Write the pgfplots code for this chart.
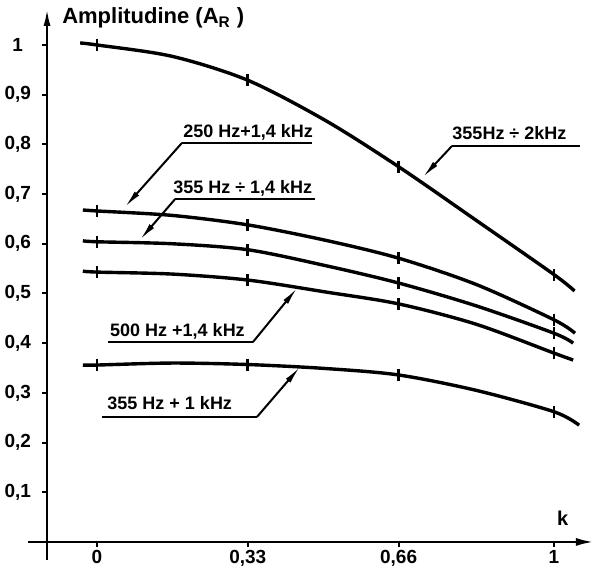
\documentclass[border=0pt]{standalone}
\usepackage{pgfplots}
\pgfplotsset{compat=1.18}
\usepackage{fontspec}
\setmainfont{Liberation Sans}
\usetikzlibrary{arrows.meta}
\begin{document}
\begin{tikzpicture}[font=\bfseries]
\begin{axis}[
  scale only axis,
  width=273.5pt, height=267pt,
  xmin=-0.1094, xmax=1.0875,
  ymin=0, ymax=1.0744,
  axis lines=left,
  clip=false,
  x axis line style={line width=1.3pt, -{Latex[length=9pt,width=4pt]}, shorten <=-9.5pt},
  y axis line style={line width=1.3pt, -{Latex[length=9pt,width=3.5pt]}, shorten <=-9pt},
  tick align=outside,
  major tick length=2.5pt,
  every tick/.style={black, line width=1pt},
  xtick={0,0.33,0.66,1},
  xticklabels={0,{0,33},{0,66},1},
  ytick={0.1,0.2,0.3,0.4,0.5,0.6,0.7,0.8,0.9,1},
  yticklabels={{0,1},{0,2},{0,3},{0,4},{0,5},{0,6},{0,7},{0,8},{0,9},1},
  ticklabel style={font=\fontsize{9.5}{11}\selectfont\bfseries},
  xticklabel style={yshift=2pt},
  yticklabel style={anchor=east, text width=13pt, align=center, inner xsep=0pt, xshift=-5.5pt},
  every axis y label/.style={at={(rel axis cs:0.015,0.981)}, anchor=west, font=\fontsize{11}{13}\selectfont\bfseries},
  every axis x label/.style={at={(rel axis cs:0.943,0.045)}, anchor=center, font=\fontsize{10}{12}\selectfont\bfseries},
  ylabel={Amplitudine (A\textsubscript{R} )},
  xlabel={k},
  curve/.style={line width=1.7pt, black, smooth, mark=|, mark size=3pt, mark options={line width=1.4pt, solid}, mark indices={2,4,6,8}},
]
% frame of the picture (nothing drawn)
\path (axis cs:-0.2123,-0.0584) rectangle (axis cs:1.0963,1.0905);
% 355 Hz ÷ 2 kHz
\addplot[curve] coordinates {(-0.037,1.004) (0,1.0) (0.165,0.977) (0.33,0.929) (0.5,0.848) (0.66,0.755) (0.83,0.647) (1,0.538) (1.045,0.505)};
% 250 Hz + 1,4 kHz
\addplot[curve] coordinates {(-0.031,0.668) (0,0.666) (0.165,0.657) (0.33,0.638) (0.5,0.607) (0.66,0.571) (0.83,0.518) (1,0.447) (1.046,0.42)};
% 355 Hz ÷ 1,4 kHz
\addplot[curve] coordinates {(-0.031,0.606) (0,0.604) (0.165,0.600) (0.33,0.588) (0.5,0.556) (0.66,0.521) (0.83,0.475) (1,0.42) (1.042,0.40)};
% 500 Hz + 1,4 kHz
\addplot[curve] coordinates {(-0.031,0.545) (0,0.543) (0.165,0.539) (0.33,0.527) (0.5,0.503) (0.66,0.479) (0.83,0.438) (1,0.380) (1.042,0.366)};
% 355 Hz + 1 kHz
\addplot[curve] coordinates {(-0.031,0.356) (0,0.356) (0.165,0.360) (0.33,0.357) (0.5,0.349) (0.66,0.336) (0.83,0.305) (1,0.262) (1.055,0.235)};

% labels with leader lines
\def\lfont{\fontsize{9}{10}\selectfont\bfseries}
\node[anchor=base west, inner sep=0pt, font=\lfont] at (axis cs:0.188,0.813) {250 Hz+1,4 kHz};
\draw[line width=1.2pt] (axis cs:0.470,0.803) -- (axis cs:0.186,0.803);
\draw[line width=1pt, -{Latex[length=9pt,width=3pt]}] (axis cs:0.186,0.803) -- (axis cs:0.061,0.674);

\node[anchor=base west, inner sep=0pt, font=\lfont] at (axis cs:0.166,0.702) {355 Hz ÷ 1,4 kHz};
\draw[line width=1.2pt] (axis cs:0.477,0.690) -- (axis cs:0.171,0.690);
\draw[line width=1pt, -{Latex[length=9pt,width=3pt]}] (axis cs:0.171,0.690) -- (axis cs:0.094,0.608);

\node[anchor=base west, inner sep=0pt, font=\lfont] at (axis cs:0.777,0.809) {355Hz ÷ 2kHz};
\draw[line width=1.2pt] (axis cs:1.057,0.797) -- (axis cs:0.777,0.797);
\draw[line width=1pt, -{Latex[length=9pt,width=3pt]}] (axis cs:0.777,0.797) -- (axis cs:0.713,0.734);

\node[anchor=base west, inner sep=0pt, font=\lfont] at (axis cs:0.028,0.4125) {500 Hz +1,4 kHz};
\draw[line width=1.2pt] (axis cs:0.024,0.402) -- (axis cs:0.341,0.402);
\draw[line width=1pt, -{Latex[length=9pt,width=3pt]}] (axis cs:0.341,0.402) -- (axis cs:0.438,0.511);

\node[anchor=base west, inner sep=0pt, font=\lfont] at (axis cs:0.022,0.2656) {355 Hz + 1 kHz};
\draw[line width=1.2pt] (axis cs:0.011,0.2515) -- (axis cs:0.35,0.2515);
\draw[line width=1pt, -{Latex[length=9pt,width=3pt]}] (axis cs:0.35,0.2515) -- (axis cs:0.444,0.352);
\end{axis}
\end{tikzpicture}
\end{document}
